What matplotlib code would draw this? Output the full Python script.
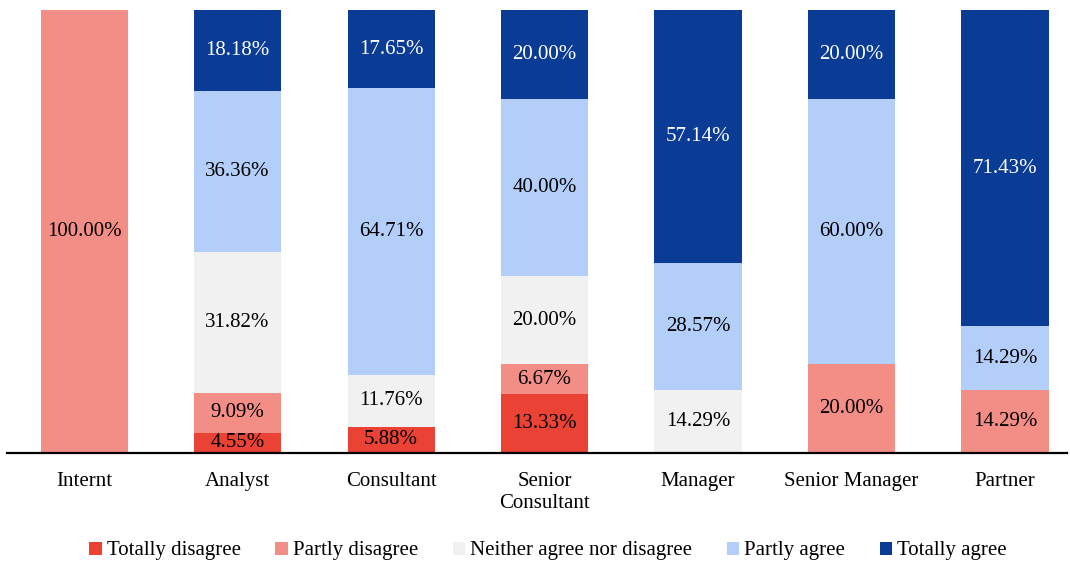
import matplotlib.pyplot as plt
import numpy as np

plt.rcParams['font.family'] = ['Liberation Serif', 'DejaVu Serif']

categories = ["Internt", "Analyst", "Consultant", "Senior\nConsultant",
              "Manager", "Senior Manager", "Partner"]
series_names = ["Totally disagree", "Partly disagree", "Neither agree nor disagree",
                "Partly agree", "Totally agree"]
totally_disagree = [0, 4.55, 5.88, 13.33, 0, 0, 0]
partly_disagree = [100.00, 9.09, 0, 6.67, 0, 20.00, 14.29]
neither = [0, 31.82, 11.76, 20.00, 14.29, 0, 0]
partly_agree = [0, 36.36, 64.71, 40.00, 28.57, 60.00, 14.29]
totally_agree = [0, 18.18, 17.65, 20.00, 57.14, 20.00, 71.43]

colors = ["#EA4335", "#F28E86", "#F1F1F1", "#B4CEFA", "#0A3C96"]
text_colors = ["black", "black", "black", "black", "white"]

fig = plt.figure(figsize=(10.7, 5.63), dpi=100)
ax = fig.add_axes([7 / 1070, 1 - 453 / 563, 1060 / 1070, 443 / 563])

x = np.arange(len(categories))
bottom = np.zeros(len(categories))
all_series = [totally_disagree, partly_disagree, neither, partly_agree, totally_agree]
for vals, name, c, tc in zip(all_series, series_names, colors, text_colors):
    vals = np.array(vals)
    ax.bar(x, vals, 0.567, bottom=bottom, color=c, label=name)
    for xi, v, b in zip(x, vals, bottom):
        if v > 0:
            ax.text(xi, b + v / 2, f"{v:.2f}%", ha='center', va='center',
                    fontsize=15, color=tc)
    bottom += vals

ax.set_xlim(-0.502, 6.404)
ax.set_ylim(0, 100)
ax.set_yticks([])
ax.set_xticks(x)
ax.set_xticklabels(categories, fontsize=15, va='top', linespacing=1.15)
ax.tick_params(axis='x', length=0, pad=14)
for s in ['top', 'right', 'left']:
    ax.spines[s].set_visible(False)
ax.spines['bottom'].set_linewidth(1.6)

ax.legend(loc='center', bbox_to_anchor=(548 / 1070, (563 - 551) / 563),
          bbox_transform=fig.transFigure, ncol=5, frameon=False, fontsize=15,
          handlelength=0.6, handleheight=0.6, handletextpad=0.25, columnspacing=1.65)

fig.savefig("out.png", dpi=100)
